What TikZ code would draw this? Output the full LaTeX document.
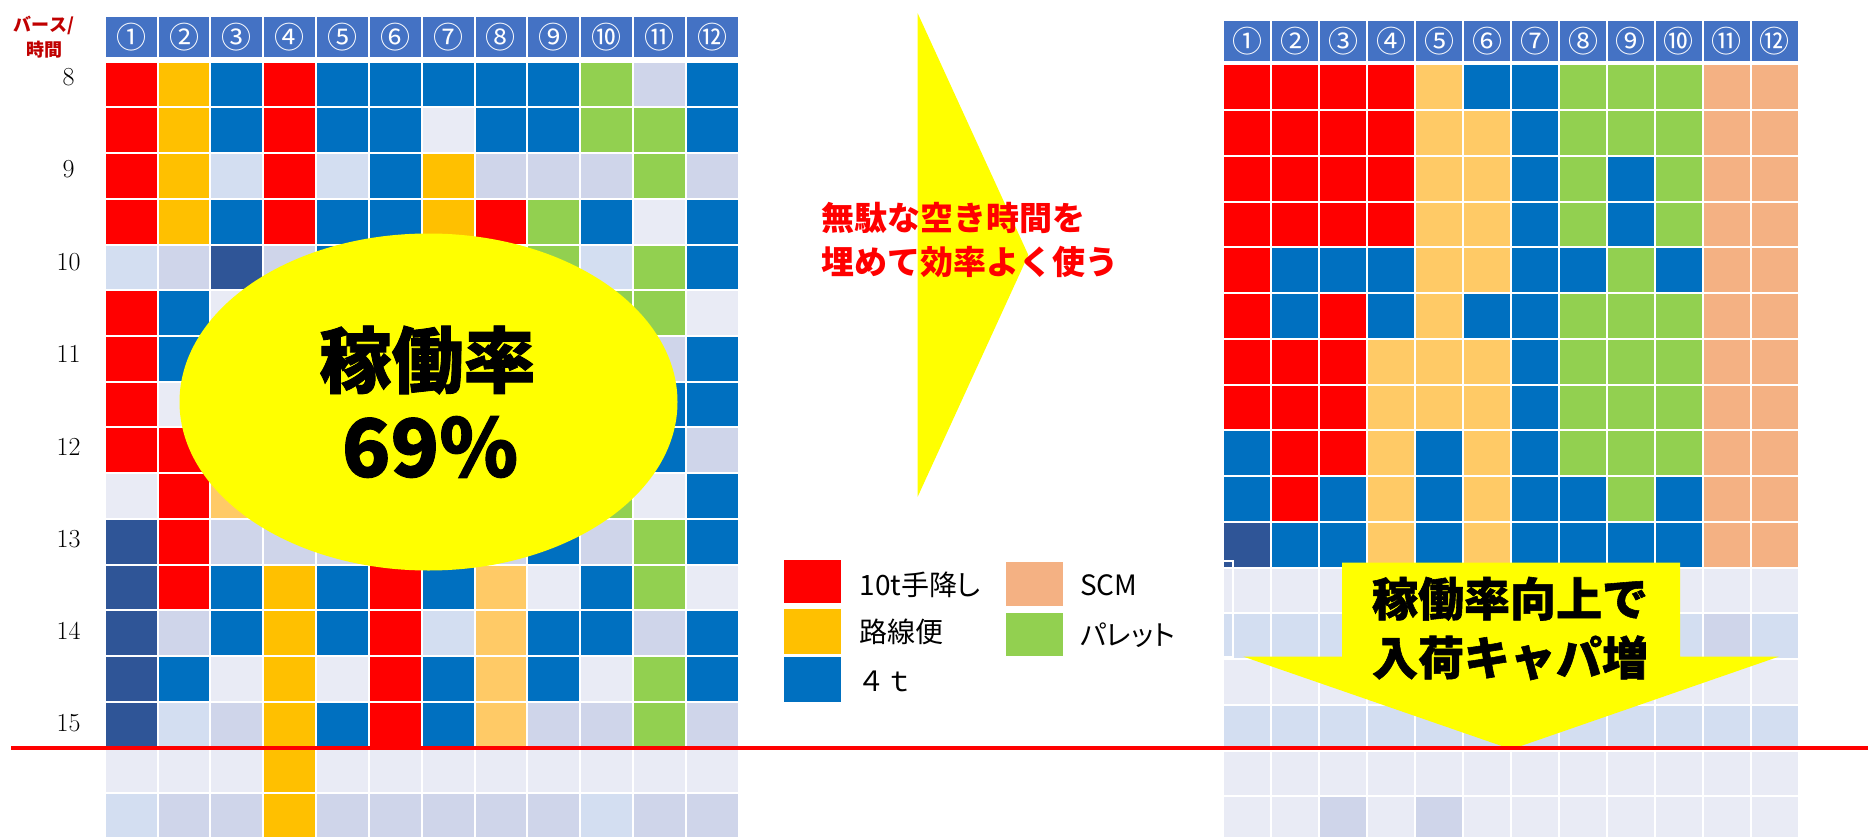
\documentclass[tikz,border=0pt]{standalone}
\usepackage{fontspec}
\newfontfamily\jp{Noto Sans CJK JP}
\newfontfamily\jpp{Noto Sans CJK JP}[RawFeature=+palt]
\newfontfamily\jph{Noto Sans CJK JP}[BoldFeatures={FakeBold=1.2}]
\usetikzlibrary{shapes.geometric}
\definecolor{cR}{HTML}{FF0000}
\definecolor{cO}{HTML}{FFC000}
\definecolor{cP}{HTML}{FFCA66}
\definecolor{cB}{HTML}{0070C0}
\definecolor{cG}{HTML}{92D050}
\definecolor{cS}{HTML}{F4B183}
\definecolor{cN}{HTML}{2F5597}
\definecolor{cL}{HTML}{E9EBF5}
\definecolor{cM}{HTML}{CFD5EA}
\definecolor{cK}{HTML}{D3DEF1}
\definecolor{cH}{HTML}{4472C4}
\definecolor{cY}{HTML}{FFFF00}
\definecolor{cDR}{HTML}{C00000}
\tikzset{
  cell/.style={draw=white, line width=2pt},
  hdr/.style={fill=cH, draw=white, line width=2pt, text=white, inner sep=0pt,
    font=\jp\fontsize{30}{30}\selectfont},
  swatch/.style={draw=white, line width=1pt},
  legtext/.style={anchor=west, inner sep=0pt, font=\jpp\fontsize{28}{28}\selectfont},
}
\begin{document}
\begin{tikzpicture}[x=1pt,y=-1pt]
\useasboundingbox (0,0) rectangle (1868,837);
\fill[white] (0,0) rectangle (1868,837);

% ---------- left grid ----------
\foreach \row [count=\r] in {
 {R,O,B,R,B,B,B,B,B,G,M,B},
 {R,O,B,R,B,B,L,B,B,G,G,B},
 {R,O,K,R,K,B,O,M,M,M,G,M},
 {R,O,B,R,B,B,O,R,G,B,L,B},
 {K,M,N,M,B,B,O,L,G,K,G,B},
 {R,B,L,M,B,R,B,M,G,G,G,L},
 {R,B,L,B,L,R,B,B,L,G,M,B},
 {R,L,M,B,B,R,L,B,M,L,B,B},
 {R,R,B,L,B,R,B,P,B,G,B,M},
 {L,R,P,O,B,R,L,P,G,G,L,B},
 {N,R,M,M,M,M,M,M,B,M,G,B},
 {N,R,B,O,B,R,B,P,L,B,G,L},
 {N,M,B,O,B,R,K,P,B,B,M,B},
 {N,B,L,O,L,R,B,P,B,L,G,B},
 {N,K,M,O,B,R,B,P,M,M,G,M},
 {L,L,L,O,L,L,L,L,L,L,L,L},
 {K,M,M,O,M,M,M,M,M,K,M,M}} {
  \foreach \c [count=\k] in \row {
    \filldraw[cell, fill=c\c] ({104.8+(\k-1)*52.82},{61.8+(\r-1)*45.7}) rectangle ++(52.82,45.7);
  }
}
\foreach \t [count=\k] in {①,②,③,④,⑤,⑥,⑦,⑧,⑨,⑩,⑪,⑫} {
  \node[hdr, minimum width=52.82pt, minimum height=42.3pt] (lh\k) at ({104.8+(\k-0.5)*52.82},36.9) {\t};
}
\node[text=cDR, font=\jp\bfseries\fontsize{18}{25}\selectfont, align=center, inner sep=0pt] (bh) at (44,37.5) {バース/\\時間};
\foreach \t [count=\i from 0] in {8,...,15} {
  \node[inner sep=0pt, font=\fontsize{26}{26}\selectfont] (tl\t) at (68.5,{77.3+\i*92.3}) {\t};
}

% ---------- right grid ----------
\foreach \row [count=\r] in {
 {R,R,R,R,P,B,B,G,G,G,S,S},
 {R,R,R,R,P,P,B,G,G,G,S,S},
 {R,R,R,R,P,P,B,G,B,G,S,S},
 {R,R,R,R,P,P,B,G,B,G,S,S},
 {R,B,B,B,P,P,B,B,G,B,S,S},
 {R,B,R,B,P,B,B,G,G,G,S,S},
 {R,R,R,P,P,P,B,G,G,G,S,S},
 {R,R,R,P,P,P,B,G,G,G,S,S},
 {B,R,R,P,B,P,B,G,G,G,S,S},
 {B,R,B,P,B,P,B,B,G,B,S,S},
 {N,B,B,P,B,P,B,B,B,B,S,S},
 {L,L,L,L,L,L,L,L,L,L,L,L},
 {K,K,K,K,K,K,K,K,K,K,M,K},
 {L,L,L,L,L,L,L,L,L,L,L,L},
 {K,K,K,K,K,K,K,K,K,K,K,K},
 {L,L,L,L,L,L,L,L,L,L,L,L},
 {L,L,M,L,M,L,L,L,L,L,L,L}} {
  \foreach \c [count=\k] in \row {
    \filldraw[cell, fill=c\c] ({1223.4+(\k-1)*47.95},{64.3+(\r-1)*45.75}) rectangle ++(47.95,45.75);
  }
}
\foreach \t [count=\k] in {①,②,③,④,⑤,⑥,⑦,⑧,⑨,⑩,⑪,⑫} {
  \node[hdr, minimum width=47.95pt, minimum height=41.7pt] (rh\k) at ({1223.4+(\k-0.5)*47.95},40.9) {\t};
}
\draw[white, line width=1.5pt] (1223.5,561) rectangle (1233,657);

% ---------- ellipse ----------
\node[ellipse, fill=cY, minimum width=498pt, minimum height=337pt, inner sep=0pt] (ell) at (428.5,402) {};
\node[inner sep=0pt, font=\jph\bfseries\fontsize{72}{72}\selectfont] (rate) at (427.6,360) {稼働率};
\node[inner sep=0pt, font=\jph\bfseries\fontsize{80}{80}\selectfont] (pct) at (430,447) {69\%};

% ---------- right-pointing triangle ----------
\fill[cY] (917.7,13.3) -- (1028.3,255) -- (917.7,496.7) -- cycle;
\node[anchor=west, inner sep=0pt, text=cR, align=left,
  font=\jp\bfseries\fontsize{33}{44}\selectfont] (msg) at (821.7,240) {無駄な空き時間を\\埋めて効率よく使う};

% ---------- legend ----------
\filldraw[swatch, fill=cR] (783.3,559.3) rectangle (841.7,603.3);
\filldraw[swatch, fill=cO] (783.3,608) rectangle (841.7,654);
\filldraw[swatch, fill=cB] (783.3,656) rectangle (841.7,702.7);
\filldraw[swatch, fill=cS] (1005.7,561.7) rectangle (1063.3,606);
\filldraw[swatch, fill=cG] (1005.7,612.7) rectangle (1063.3,656.7);
\node[legtext] (lg1) at (859.3,585) {10t手降し};
\node[legtext] (lg2) at (859.3,631.7) {路線便};
\node[legtext, font=\jp\fontsize{28}{28}\selectfont] (lg3) at (857,681.7) {４ｔ};
\node[legtext] (lg4) at (1080,585.7) {SCM};
\node[legtext] (lg5) at (1080,635) {パレット};

% ---------- down arrow ----------
\fill[cY] (1342.2,562.7) -- (1680,562.7) -- (1680,656.7) -- (1778.6,656.7) -- (1511.3,749.3) -- (1243.6,656.7) -- (1342.2,656.7) -- cycle;
\node[inner sep=0pt, align=center, font=\jph\bfseries\fontsize{46}{59}\selectfont] (arrtxt) at (1510,628.5) {稼働率向上で\\入荷キャパ増};

% ---------- red line ----------
\coordinate (rl1) at (11,748.3);
\coordinate (rl2) at (1868,748.3);
\draw[cR, line width=4pt] (rl1) -- (rl2);
\end{tikzpicture}
\end{document}
